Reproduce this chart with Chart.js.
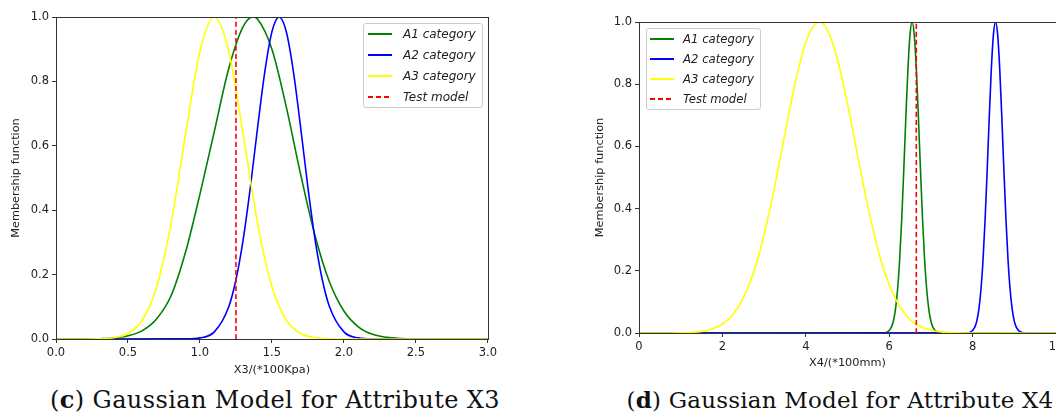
<!DOCTYPE html>
<html>
<head>
<meta charset="utf-8">
<script src="https://cdn.jsdelivr.net/npm/chart.js@4.4.0/dist/chart.umd.min.js"></script>
<style>
  body { margin: 0; width: 1056px; height: 414px; overflow: hidden; background: #fff; position: relative; }
  canvas { position: absolute; top: 0; }
  .legend { position: absolute; border: 1px solid #ccc; border-radius: 3px; background: rgba(255,255,255,0.8); box-sizing: border-box; }
  .legend .row { position: absolute; left: 0; font-family: 'DejaVu Sans'; font-style: italic; color: #222; white-space: nowrap; }
  .legend .swatch { position: absolute; height: 2px; }
  .caption { position: absolute; font-family: 'DejaVu Serif'; color: #111; text-align: center; line-height: 28px; white-space: nowrap; }
</style>
</head>
<body>
<canvas id="chartC" width="500" height="381" style="left:0px"></canvas>
<canvas id="chartD" width="485" height="374" style="left:583px"></canvas>
<div id="legendC" class="legend" style="left:363px;top:23px;width:120px;height:85px"></div>
<div id="legendD" class="legend" style="left:646px;top:28px;width:115px;height:82px"></div>
<div class="caption" style="left:0px;top:386px;width:550px;font-size:24px;letter-spacing:0.4px">(<b>c</b>) Gaussian Model for Attribute X3</div>
<div class="caption" style="left:590px;top:386px;width:500px;font-size:23px;letter-spacing:0.2px">(<b>d</b>) Gaussian Model for Attribute X4</div>
<script>
// series names + colours
const seriesNames = ['A1 category', 'A2 category', 'A3 category', 'Test model'];
const seriesColors = ['#008000', '#0000ff', '#ffff00', '#ff0000'];

// (c) attribute X3
const c_a1_x = [0, 0.2, 0.3, 0.4, 0.5, 0.6, 0.7, 0.8, 0.9, 1.0, 1.1, 1.2, 1.3, 1.37, 1.4, 1.5, 1.6, 1.7, 1.8, 1.9, 2.0, 2.1, 2.2, 2.3, 2.4, 2.5, 2.6, 3.0];
const c_a1_y = [0, 0.0002, 0.001, 0.003, 0.01, 0.026, 0.063, 0.135, 0.27, 0.45, 0.645, 0.84, 0.97, 1.0, 0.994, 0.9, 0.72, 0.51, 0.32, 0.177, 0.087, 0.038, 0.0144, 0.005, 0.0015, 0.0004, 0.0001, 0];
const c_a2_x = [0, 0.9, 1.0, 1.1, 1.2, 1.25, 1.3, 1.35, 1.4, 1.45, 1.5, 1.55, 1.6, 1.65, 1.7, 1.75, 1.8, 1.85, 1.9, 2.0, 2.1, 2.2, 3.0];
const c_a2_y = [0, 0.0003, 0.0034, 0.022, 0.10, 0.184, 0.308, 0.471, 0.655, 0.828, 0.954, 1.0, 0.954, 0.828, 0.655, 0.471, 0.308, 0.184, 0.10, 0.022, 0.0034, 0.0003, 0];
const c_a3_x = [0, 0.3, 0.4, 0.5, 0.6, 0.7, 0.8, 0.9, 1.0, 1.1, 1.2, 1.3, 1.4, 1.5, 1.6, 1.7, 1.8, 1.9, 2.0, 3.0];
const c_a3_y = [0, 0.0007, 0.004, 0.017, 0.059, 0.163, 0.36, 0.636, 0.893, 1.0, 0.893, 0.636, 0.36, 0.163, 0.059, 0.017, 0.004, 0.0007, 0, 0];
const c_test = 1.25;
const c_xTicks = [0, 0.5, 1.0, 1.5, 2.0, 2.5, 3.0];

// (d) attribute X4
const d_a1_x = [0, 5.85, 5.95, 6.05, 6.1, 6.15, 6.2, 6.25, 6.3, 6.35, 6.4, 6.45, 6.5, 6.55, 6.6, 6.65, 6.7, 6.75, 6.8, 6.85, 6.9, 6.95, 7.0, 7.05, 7.15, 7.25, 10];
const d_a1_y = [0, 0.0004, 0.003, 0.018, 0.038, 0.076, 0.139, 0.234, 0.365, 0.525, 0.696, 0.851, 0.96, 1.0, 0.96, 0.851, 0.696, 0.525, 0.365, 0.234, 0.139, 0.076, 0.038, 0.018, 0.003, 0.0004, 0];
const d_a2_x = [0, 7.85, 7.95, 8.05, 8.1, 8.15, 8.2, 8.25, 8.3, 8.35, 8.4, 8.45, 8.5, 8.55, 8.6, 8.65, 8.7, 8.75, 8.8, 8.85, 8.9, 8.95, 9.0, 9.05, 9.15, 9.25, 10];
const d_a2_y = [0, 0.0004, 0.003, 0.018, 0.038, 0.076, 0.139, 0.234, 0.365, 0.525, 0.696, 0.851, 0.96, 1.0, 0.96, 0.851, 0.696, 0.525, 0.365, 0.234, 0.139, 0.076, 0.038, 0.018, 0.003, 0.0004, 0];
const d_a3_x = [0, 0.5, 1.0, 1.5, 1.75, 2.0, 2.25, 2.5, 2.75, 3.0, 3.25, 3.5, 3.75, 4.0, 4.32, 4.5, 4.75, 5.0, 5.25, 5.5, 5.75, 6.0, 6.25, 6.5, 6.75, 7.0, 7.25, 7.5, 8.0, 8.5, 10];
const d_a3_y = [0, 0.0001, 0.0007, 0.005, 0.013, 0.029, 0.059, 0.112, 0.196, 0.316, 0.469, 0.641, 0.807, 0.935, 1.0, 0.979, 0.885, 0.737, 0.565, 0.399, 0.259, 0.155, 0.085, 0.043, 0.020, 0.009, 0.0035, 0.0013, 0.0001, 0, 0];
const d_test = 6.65;
const d_xTicks = [0, 2, 4, 6, 8, 10];

const yTicks = [0, 0.2, 0.4, 0.6, 0.8, 1.0];

Chart.defaults.font.family = 'DejaVu Sans';
Chart.defaults.color = '#222';

function pts(xs, ys) {
  return xs.map((x, i) => ({ x: x, y: ys[i] }));
}

function lineSet(i, data) {
  return {
    label: seriesNames[i],
    data: data,
    borderColor: seriesColors[i],
    backgroundColor: seriesColors[i],
    borderWidth: 1.6,
    pointRadius: 0,
    cubicInterpolationMode: 'monotone',
    borderDash: i === 3 ? [5, 3] : [],
    order: 4 - i
  };
}

// top + right spines like matplotlib
const framePlugin = {
  id: 'frame',
  afterDatasetsDraw(chart) {
    const a = chart.chartArea;
    const ctx = chart.ctx;
    ctx.save();
    ctx.strokeStyle = '#333';
    ctx.lineWidth = 1;
    ctx.strokeRect(Math.round(a.left) + 0.5, Math.round(a.top) + 0.5, Math.round(a.right - a.left), Math.round(a.bottom - a.top));
    ctx.restore();
  }
};

function makeConfig(sets, xTicks, xFmt, xTitle, padTop, xHeight, titlePad) {
  return {
    type: 'line',
    data: { datasets: sets },
    options: {
      responsive: false,
      animation: false,
      layout: { padding: { top: padTop, right: 12, left: 0, bottom: 0 } },
      plugins: { legend: { display: false }, tooltip: { enabled: false } },
      scales: {
        x: {
          type: 'linear',
          min: xTicks[0],
          max: xTicks[xTicks.length - 1],
          afterBuildTicks: s => { s.ticks = xTicks.map(v => ({ value: v })); },
          afterFit: s => { s.height = xHeight; },
          ticks: { callback: xFmt, autoSkip: false, maxRotation: 0, padding: 3, font: { size: 11.5 }, color: '#222' },
          grid: { drawOnChartArea: false, tickLength: 4, color: '#333' },
          border: { display: false },
          title: { display: true, text: xTitle, font: { size: 11.3 }, padding: { top: 0, bottom: 4 }, color: '#222' }
        },
        y: {
          min: 0,
          max: 1,
          afterBuildTicks: s => { s.ticks = yTicks.map(v => ({ value: v })); },
          afterFit: s => { s.width = 56; },
          ticks: { callback: v => v.toFixed(1), autoSkip: false, padding: 3, font: { size: 11.5 }, color: '#222' },
          grid: { drawOnChartArea: false, tickLength: 4, color: '#333' },
          border: { display: false },
          title: { display: true, text: 'Membership function', font: { size: 11.3 }, padding: { top: titlePad, bottom: 0 }, color: '#222' }
        }
      }
    },
    plugins: [framePlugin]
  };
}

const setsC = [
  lineSet(0, pts(c_a1_x, c_a1_y)),
  lineSet(1, pts(c_a2_x, c_a2_y)),
  lineSet(2, pts(c_a3_x, c_a3_y)),
  lineSet(3, pts([c_test, c_test], [0, 1]))
];
const setsD = [
  lineSet(0, pts(d_a1_x, d_a1_y)),
  lineSet(1, pts(d_a2_x, d_a2_y)),
  lineSet(2, pts(d_a3_x, d_a3_y)),
  lineSet(3, pts([d_test, d_test], [0, 1]))
];

const chartC = new Chart(
  document.getElementById('chartC'),
  makeConfig(setsC, c_xTicks, v => v.toFixed(1), 'X3/(*100Kpa)', 17, 42, 9)
);
const chartD = new Chart(
  document.getElementById('chartD'),
  makeConfig(setsD, d_xTicks, v => String(v), 'X4/(*100mm)', 22, 41, 10)
);

// legend boxes (matplotlib style, upper right / upper left)
function buildLegend(el, rowTops, lineLeft, lineLen, textLeft, fontSize) {
  seriesNames.forEach((name, i) => {
    const sw = document.createElement('div');
    sw.className = 'swatch';
    sw.style.left = lineLeft + 'px';
    sw.style.width = lineLen + 'px';
    sw.style.top = (rowTops[i] - 1) + 'px';
    sw.style.background = i === 3
      ? 'repeating-linear-gradient(to right, ' + seriesColors[i] + ' 0 5px, transparent 5px 8px)'
      : seriesColors[i];
    el.appendChild(sw);
    const row = document.createElement('div');
    row.className = 'row';
    row.textContent = name;
    row.style.left = textLeft + 'px';
    row.style.fontSize = fontSize + 'px';
    row.style.lineHeight = '16px';
    row.style.top = (rowTops[i] - 8) + 'px';
    el.appendChild(row);
  });
}
buildLegend(document.getElementById('legendC'), [10, 31, 52, 73], 4, 24, 39, 12);
buildLegend(document.getElementById('legendD'), [9.5, 30, 50, 70], 3, 24, 36, 11.7);
</script>
</body>
</html>
